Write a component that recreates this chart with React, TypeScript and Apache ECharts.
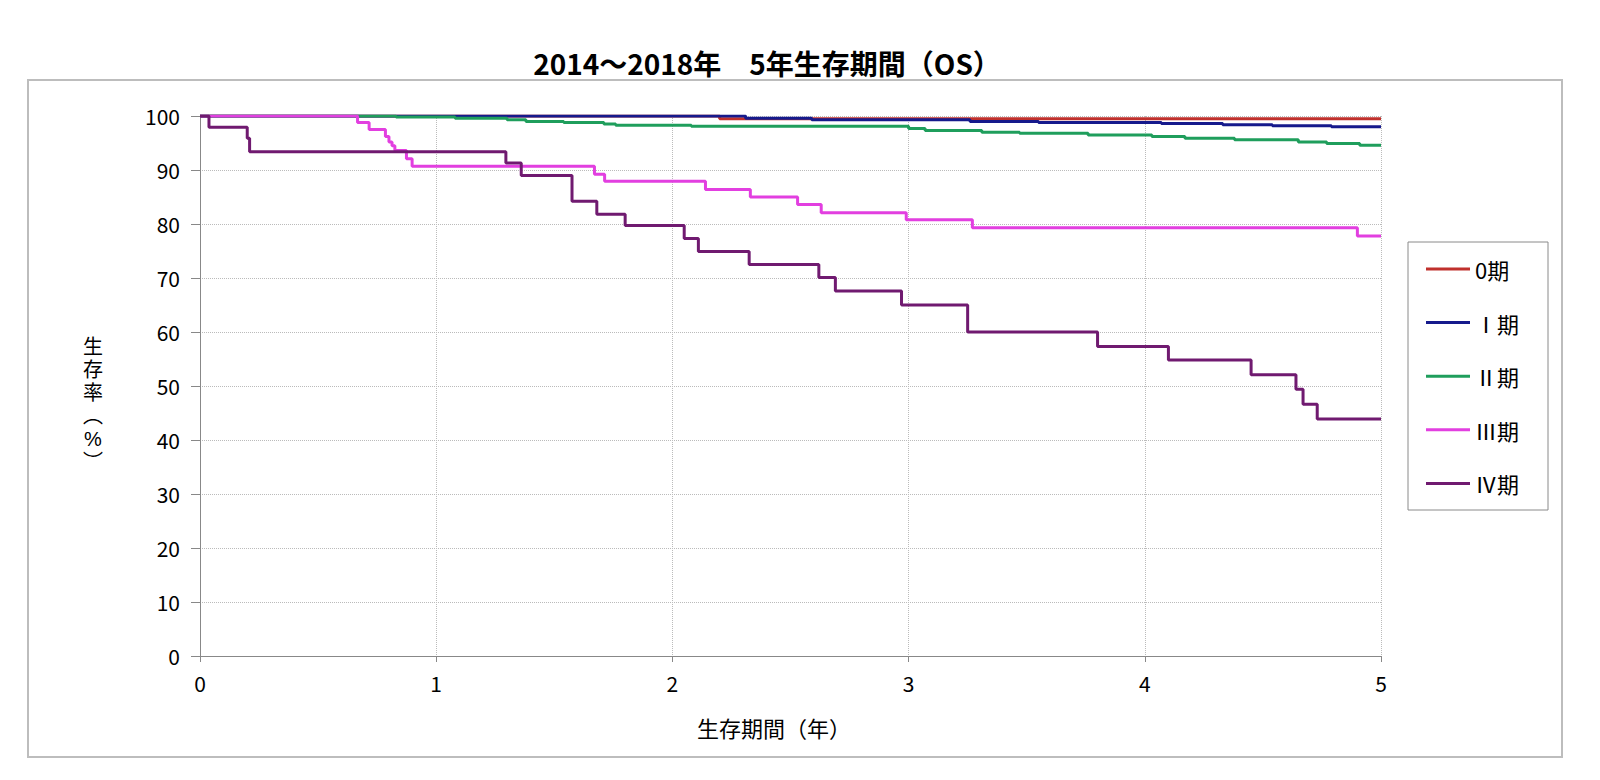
import React, { useEffect, useRef } from "react";
import * as echarts from "echarts";

const title = "2014～2018年　5年生存期間（OS）";
const xAxisName = "生存期間（年）";
const yAxisNameChars = ["生", "存", "率", "︵", "%", "︶"];
const seriesNames = ["0期", "Ⅰ期", "Ⅱ期", "Ⅲ期", "Ⅳ期"];
const seriesColors = ["#c0302c", "#161a8c", "#1f9e5c", "#e23fe0", "#701a70"];

const xTicks = [0, 1, 2, 3, 4, 5];
const yTicks = [0, 10, 20, 30, 40, 50, 60, 70, 80, 90, 100];

// stage 0
const t0 = [0, 2.2, 5];
const s0 = [100, 99.5, 99.5];
// stage I
const t1 = [0, 2.31, 2.59, 3.26, 3.55, 4.07, 4.33, 4.54, 4.79, 5];
const s1 = [100, 99.6, 99.3, 99.0, 98.8, 98.6, 98.4, 98.2, 98.0, 98.0];
// stage II
const t2 = [0, 0.83, 1.08, 1.3, 1.38, 1.54, 1.71, 1.76, 2.08, 3.0, 3.07, 3.31, 3.47, 3.76, 4.03, 4.17, 4.38, 4.65, 4.77, 4.91, 5];
const s2 = [100, 99.8, 99.6, 99.3, 99.0, 98.8, 98.5, 98.3, 98.1, 97.7, 97.3, 97.0, 96.8, 96.5, 96.2, 95.9, 95.6, 95.2, 94.9, 94.6, 94.6];
// stage III
const t3 = [0, 0.667, 0.716, 0.785, 0.8, 0.813, 0.825, 0.874, 0.898, 1.67, 1.713, 2.14, 2.33, 2.53, 2.63, 2.99, 3.27, 4.9, 5];
const s3 = [100, 98.8, 97.5, 96.2, 95.2, 94.5, 93.6, 92.1, 90.7, 89.2, 87.9, 86.4, 85.0, 83.6, 82.1, 80.8, 79.3, 77.8, 77.8];
// stage IV
const t4 = [0, 0.038, 0.2, 0.21, 1.295, 1.36, 1.575, 1.68, 1.8, 2.05, 2.11, 2.325, 2.62, 2.69, 2.97, 3.25, 3.8, 4.1, 4.45, 4.64, 4.67, 4.73, 5];
const s4 = [100, 97.9, 95.9, 93.4, 91.3, 89.0, 84.2, 81.8, 79.7, 77.3, 74.9, 72.5, 70.1, 67.6, 65.0, 60.0, 57.3, 54.8, 52.1, 49.4, 46.6, 43.9, 43.9];

const times = [t0, t1, t2, t3, t4];
const survival = [s0, s1, s2, s3, s4];

const FONT = '"Noto Sans CJK JP", "Noto Sans", sans-serif';
const NAME_FONT = '"Liberation Sans", "Noto Sans CJK JP", sans-serif';

export default function App() {
  const ref = useRef<HTMLDivElement>(null);
  useEffect(() => {
    document.body.style.margin = "0";
    if (!ref.current) return;
    const chart = echarts.init(ref.current, null, { renderer: "svg" });
    const series = seriesNames.map((name, i) => ({
      name,
      type: "line",
      step: "end",
      symbol: "none",
      color: seriesColors[i],
      lineStyle: { width: 3, color: seriesColors[i] },
      data: times[i].map((t, j) => [t, survival[i][j]]),
      z: 2 + i,
    }));
    const yNameY = [347, 370, 393, 416, 439, 462];
    chart.setOption({
      animation: false,
      backgroundColor: "#ffffff",
      textStyle: { fontFamily: FONT },
      title: {
        text: title,
        left: 762,
        top: 44,
        textAlign: "center",
        textStyle: { fontFamily: FONT, fontSize: 28, fontWeight: "bold", color: "#000" },
      },
      grid: { left: 200, right: 219, top: 116, bottom: 124, containLabel: false },
      xAxis: {
        type: "value",
        min: xTicks[0],
        max: xTicks[xTicks.length - 1],
        interval: 1,
        axisLine: { show: true, onZero: false, lineStyle: { color: "#888", width: 1 } },
        axisTick: { show: true, length: 6, lineStyle: { color: "#888" } },
        axisLabel: { fontSize: 21, color: "#000", margin: 16, fontFamily: FONT },
        splitLine: { show: true, lineStyle: { color: "#bbb", type: "dotted", width: 1 } },
      },
      yAxis: {
        type: "value",
        min: yTicks[0],
        max: yTicks[yTicks.length - 1],
        interval: 10,
        axisLine: { show: true, lineStyle: { color: "#888", width: 1 } },
        axisTick: { show: true, length: 9, lineStyle: { color: "#888" } },
        axisLabel: { fontSize: 21, color: "#000", margin: 20, fontFamily: FONT },
        splitLine: { show: true, lineStyle: { color: "#bbb", type: "dotted", width: 1 } },
      },
      legend: {
        orient: "vertical",
        left: 1426,
        top: 258,
        padding: 0,
        itemGap: 31.6,
        itemWidth: 44,
        itemHeight: 3,
        icon: "rect",
        data: seriesNames,
        textStyle: { fontSize: 22, color: "#000", lineHeight: 22, fontFamily: FONT },
      },
      graphic: [
        {
          type: "rect",
          shape: { x: 28, y: 80, width: 1534, height: 677 },
          style: { fill: "none", stroke: "#bdbdbd", lineWidth: 2 },
          silent: true,
          z: -10,
        },
        {
          type: "rect",
          shape: { x: 1408, y: 242, width: 140, height: 268 },
          style: { fill: "none", stroke: "#8a8a8a", lineWidth: 1 },
          silent: true,
        },
        {
          type: "text",
          x: 774,
          y: 727,
          style: {
            text: xAxisName,
            fontSize: 22,
            fontFamily: FONT,
            fill: "#000",
            align: "center",
            verticalAlign: "middle",
          },
        },
        ...yAxisNameChars.map((c, i) => ({
          type: "text",
          x: 93,
          y: yNameY[i],
          style: {
            text: c,
            fontSize: 20,
            fontFamily: NAME_FONT,
            fill: "#000",
            align: "center",
            verticalAlign: "middle",
          },
        })),
      ],
      series,
    });
    return () => chart.dispose();
  }, []);
  return <div ref={ref} style={{ width: 1600, height: 780 }} />;
}
